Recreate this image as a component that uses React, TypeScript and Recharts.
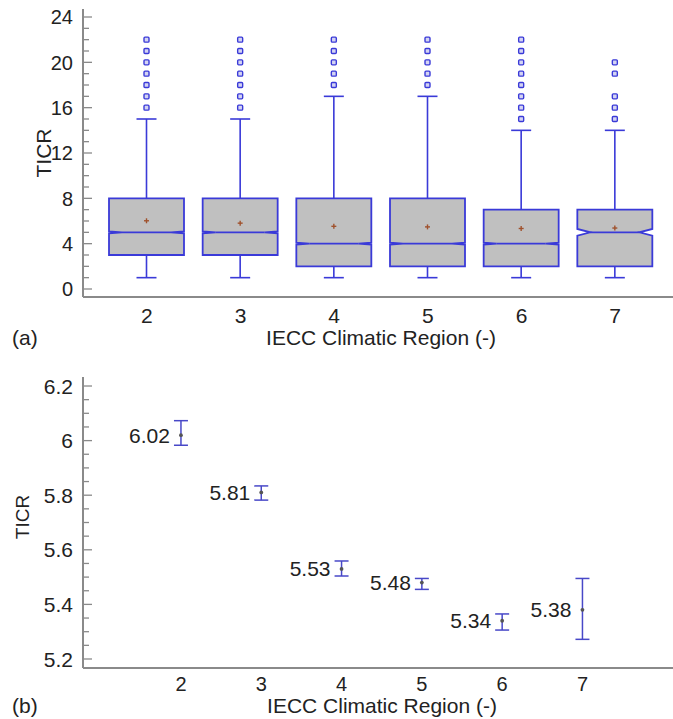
import React from 'react';
import { ComposedChart, Bar, XAxis, YAxis, ScatterChart, Scatter, ErrorBar } from 'recharts';

// ---- Panel (a): box plot data ----
const regions = ['2', '3', '4', '5', '6', '7'];
const whiskerLow = [1, 1, 1, 1, 1, 1];
const quartile1 = [3, 3, 2, 2, 2, 2];
const medians = [5, 5, 4, 4, 4, 5];
const quartile3 = [8, 8, 8, 8, 7, 7];
const whiskerHigh = [15, 15, 17, 17, 14, 14];
const notchHalf = [0.08, 0.08, 0.08, 0.08, 0.08, 0.3];
const outliers = [
  [16, 17, 18, 19, 20, 21, 22],
  [16, 17, 18, 19, 20, 21, 22],
  [18, 19, 20, 21, 22],
  [18, 19, 20, 21, 22],
  [15, 16, 17, 18, 19, 20, 21, 22],
  [15, 16, 17, 19, 20],
];
const boxTicks = [0, 1, 2, 3, 4, 5, 6, 7, 8, 9, 10, 11, 12, 13, 14, 15, 16, 17, 18, 19, 20, 21, 22, 23, 24];

// ---- Panel (b): mean with confidence interval ----
const regionNums = [2, 3, 4, 5, 6, 7];
const meanTICR = [6.02, 5.81, 5.53, 5.48, 5.34, 5.38];
const ciLow = [5.983, 5.782, 5.504, 5.455, 5.306, 5.272];
const ciHigh = [6.073, 5.834, 5.559, 5.495, 5.365, 5.495];
const meanTicks = [5.2, 5.25, 5.3, 5.35, 5.4, 5.45, 5.5, 5.55, 5.6, 5.65, 5.7, 5.75, 5.8, 5.85, 5.9, 5.95, 6.0, 6.05, 6.1, 6.15, 6.2];

const boxData = regions.map((r, i) => ({
  region: r,
  low: whiskerLow[i],
  q1: quartile1[i],
  median: medians[i],
  q3: quartile3[i],
  high: whiskerHigh[i],
  notch: notchHalf[i],
  mean: meanTICR[i],
  outliers: outliers[i],
}));

const meanData = regionNums.map((r, i) => ({
  x: r,
  y: meanTICR[i],
  err: [meanTICR[i] - ciLow[i], ciHigh[i] - meanTICR[i]],
  label: meanTICR[i].toFixed(2),
}));

const FONT = '"Liberation Sans", Arial, Helvetica, sans-serif';
const BLUE = '#3a3ad8';
const FRAME = '#8a8a8a';
const TEXT = '#222222';

const BoxShape = (props: any) => {
  const { x, y, width, height, payload } = props;
  const top = Math.min(y, y + height);
  const bottom = Math.max(y, y + height);
  const k = (bottom - top) / (payload.q3 - payload.q1);
  const Y = (v: number) => bottom - (v - payload.q1) * k;
  const cx = x + width / 2;
  const left = x;
  const right = x + width;
  const ym = Y(payload.median);
  const yn1 = Y(payload.median + payload.notch);
  const yn2 = Y(payload.median - payload.notch);
  const ind = 13;
  const path = `M${left},${top} L${right},${top} L${right},${yn1} L${right - ind},${ym} L${right},${yn2} L${right},${bottom} L${left},${bottom} L${left},${yn2} L${left + ind},${ym} L${left},${yn1} Z`;
  const yHigh = Y(payload.high);
  const yLow = Y(payload.low);
  const yMean = Y(payload.mean);
  return (
    <g>
      <line x1={cx} x2={cx} y1={top} y2={yHigh} stroke={BLUE} strokeWidth={1.6} />
      <line x1={cx - 10} x2={cx + 10} y1={yHigh} y2={yHigh} stroke={BLUE} strokeWidth={1.6} />
      <line x1={cx} x2={cx} y1={bottom} y2={yLow} stroke={BLUE} strokeWidth={1.6} />
      <line x1={cx - 10} x2={cx + 10} y1={yLow} y2={yLow} stroke={BLUE} strokeWidth={1.6} />
      <path d={path} fill="#c0c0c0" stroke={BLUE} strokeWidth={1.8} />
      <line x1={left + ind} x2={right - ind} y1={ym} y2={ym} stroke={BLUE} strokeWidth={1.8} />
      <line x1={cx - 2.5} x2={cx + 2.5} y1={yMean} y2={yMean} stroke="#a0522d" strokeWidth={1.4} />
      <line x1={cx} x2={cx} y1={yMean - 2.5} y2={yMean + 2.5} stroke="#a0522d" strokeWidth={1.4} />
      {payload.outliers.map((o: number, j: number) => (
        <rect key={j} x={cx - 2.5} y={Y(o) - 2.5} width={5} height={5} rx={1} fill="#d4d4f2" stroke={BLUE} strokeWidth={1.4} />
      ))}
    </g>
  );
};

const makeLeftTick = (isMajor: (v: number) => boolean, fontSize: number, fmt: (v: number) => string) => (props: any) => {
  const { x, y, payload } = props;
  const v = payload.value;
  const major = isMajor(v);
  return (
    <g>
      <line x1={x} x2={x + (major ? 9 : 6)} y1={y} y2={y} stroke={FRAME} strokeWidth={1.3} />
      {major && (
        <text x={x - 10} y={y} dy={fontSize * 0.36} textAnchor="end" fontSize={fontSize} fontFamily={FONT} fill={TEXT}>
          {fmt(v)}
        </text>
      )}
    </g>
  );
};

const makeRightTick = (isMajor: (v: number) => boolean) => (props: any) => {
  const { x, y, payload } = props;
  const major = isMajor(payload.value);
  return <line x1={x} x2={x - (major ? 9 : 6)} y1={y} y2={y} stroke={FRAME} strokeWidth={1.3} />;
};

const makeBottomTick = (fontSize: number, offset: number) => (props: any) => {
  const { x, y, payload } = props;
  return (
    <text x={x} y={y + offset} textAnchor="middle" fontSize={fontSize} fontFamily={FONT} fill={TEXT}>
      {payload.value}
    </text>
  );
};

const isMajorA = (v: number) => v % 4 === 0;
const isMajorB = (v: number) => Math.abs(Math.round(v * 5) - v * 5) < 1e-6;

const MeanShape = (props: any) => {
  const { cx, cy, payload } = props;
  return (
    <g>
      <circle cx={cx} cy={cy} r={1.9} fill="#555" />
      <text x={cx - 11} y={cy} dy={7.5} textAnchor="end" fontSize={21} fontFamily={FONT} fill={TEXT}>
        {payload.label}
      </text>
    </g>
  );
};

export default function App() {
  return (
    <div style={{ position: 'fixed', left: 0, top: 0, width: 673, height: 719, overflow: 'hidden', background: '#fff' }}>
      <div style={{ position: 'absolute', left: 0, top: 0 }}>
        <ComposedChart width={676} height={355} data={boxData} margin={{ top: 9, right: 0, bottom: 0, left: 0 }}>
          <XAxis
            dataKey="region"
            type="category"
            height={58}
            padding={{ left: 17, right: 14 }}
            axisLine={{ stroke: FRAME, strokeWidth: 2 }}
            tickLine={false}
            tickSize={0}
            tickMargin={0}
            tick={makeBottomTick(21, 25.5)}
            interval={0}
          />
          <XAxis xAxisId="top" dataKey="region" orientation="top" height={0} axisLine={{ stroke: FRAME, strokeWidth: 2 }} tick={false} tickLine={false} />
          <YAxis
            type="number"
            width={83}
            domain={[-0.706, 24.706]}
            ticks={boxTicks}
            interval={0}
            allowDataOverflow
            axisLine={{ stroke: FRAME, strokeWidth: 2 }}
            tickLine={false}
            tickSize={0}
            tickMargin={0}
            tick={makeLeftTick(isMajorA, 20, (v) => String(v))}
          />
          <YAxis
            yAxisId="r"
            orientation="right"
            type="number"
            width={0}
            domain={[-0.706, 24.706]}
            ticks={boxTicks}
            interval={0}
            allowDataOverflow
            axisLine={{ stroke: FRAME, strokeWidth: 2 }}
            tickLine={false}
            tickSize={0}
            tickMargin={0}
            tick={makeRightTick(isMajorA)}
          />
          <Bar dataKey={(d: any) => [d.q1, d.q3]} barSize={75} shape={BoxShape} isAnimationActive={false} />
        </ComposedChart>
      </div>
      <div style={{ position: 'absolute', left: 0, top: 355 }}>
        <ScatterChart width={676} height={364} margin={{ top: 22, right: 0, bottom: 0, left: 0 }}>
          <XAxis
            dataKey="x"
            type="number"
            domain={[0.78, 8.165]}
            ticks={regionNums}
            interval={0}
            allowDataOverflow
            height={51}
            axisLine={{ stroke: FRAME, strokeWidth: 2 }}
            tickLine={false}
            tickSize={0}
            tickMargin={0}
            tick={makeBottomTick(20, 23)}
          />
          <XAxis xAxisId="top" dataKey="x" type="number" domain={[0.78, 8.165]} orientation="top" height={0} axisLine={{ stroke: FRAME, strokeWidth: 2 }} tick={false} tickLine={false} />
          <YAxis
            dataKey="y"
            type="number"
            width={83}
            domain={[5.167, 6.233]}
            ticks={meanTicks}
            interval={0}
            allowDataOverflow
            axisLine={{ stroke: FRAME, strokeWidth: 2 }}
            tickLine={false}
            tickSize={0}
            tickMargin={0}
            tick={makeLeftTick(isMajorB, 21, (v) => String(Number(v.toFixed(1))))}
          />
          <YAxis
            yAxisId="r"
            orientation="right"
            type="number"
            width={0}
            domain={[5.167, 6.233]}
            ticks={meanTicks}
            interval={0}
            allowDataOverflow
            axisLine={{ stroke: FRAME, strokeWidth: 2 }}
            tickLine={false}
            tickSize={0}
            tickMargin={0}
            tick={makeRightTick(isMajorB)}
          />
          <Scatter data={meanData} shape={MeanShape} isAnimationActive={false}>
            <ErrorBar dataKey="err" direction="y" width={7} stroke="#4848c8" strokeWidth={1.5} isAnimationActive={false} />
          </Scatter>
        </ScatterChart>
      </div>
      <svg width={673} height={719} style={{ position: 'absolute', left: 0, top: 0, pointerEvents: 'none' }}>
        <text x={51} y={153} transform="rotate(-90 51 153)" textAnchor="middle" fontSize={21} fontFamily={FONT} fill={TEXT}>TICR</text>
        <text x={381} y={345} textAnchor="middle" fontSize={21} fontFamily={FONT} fill={TEXT}>IECC Climatic Region (-)</text>
        <text x={12} y={345} fontSize={21} fontFamily={FONT} fill={TEXT}>(a)</text>
        <text x={29} y={517} transform="rotate(-90 29 517)" textAnchor="middle" fontSize={19} fontFamily={FONT} fill={TEXT}>TICR</text>
        <text x={382} y={713} textAnchor="middle" fontSize={21} fontFamily={FONT} fill={TEXT}>IECC Climatic Region (-)</text>
        <text x={12} y={713} fontSize={21} fontFamily={FONT} fill={TEXT}>(b)</text>
      </svg>
    </div>
  );
}
